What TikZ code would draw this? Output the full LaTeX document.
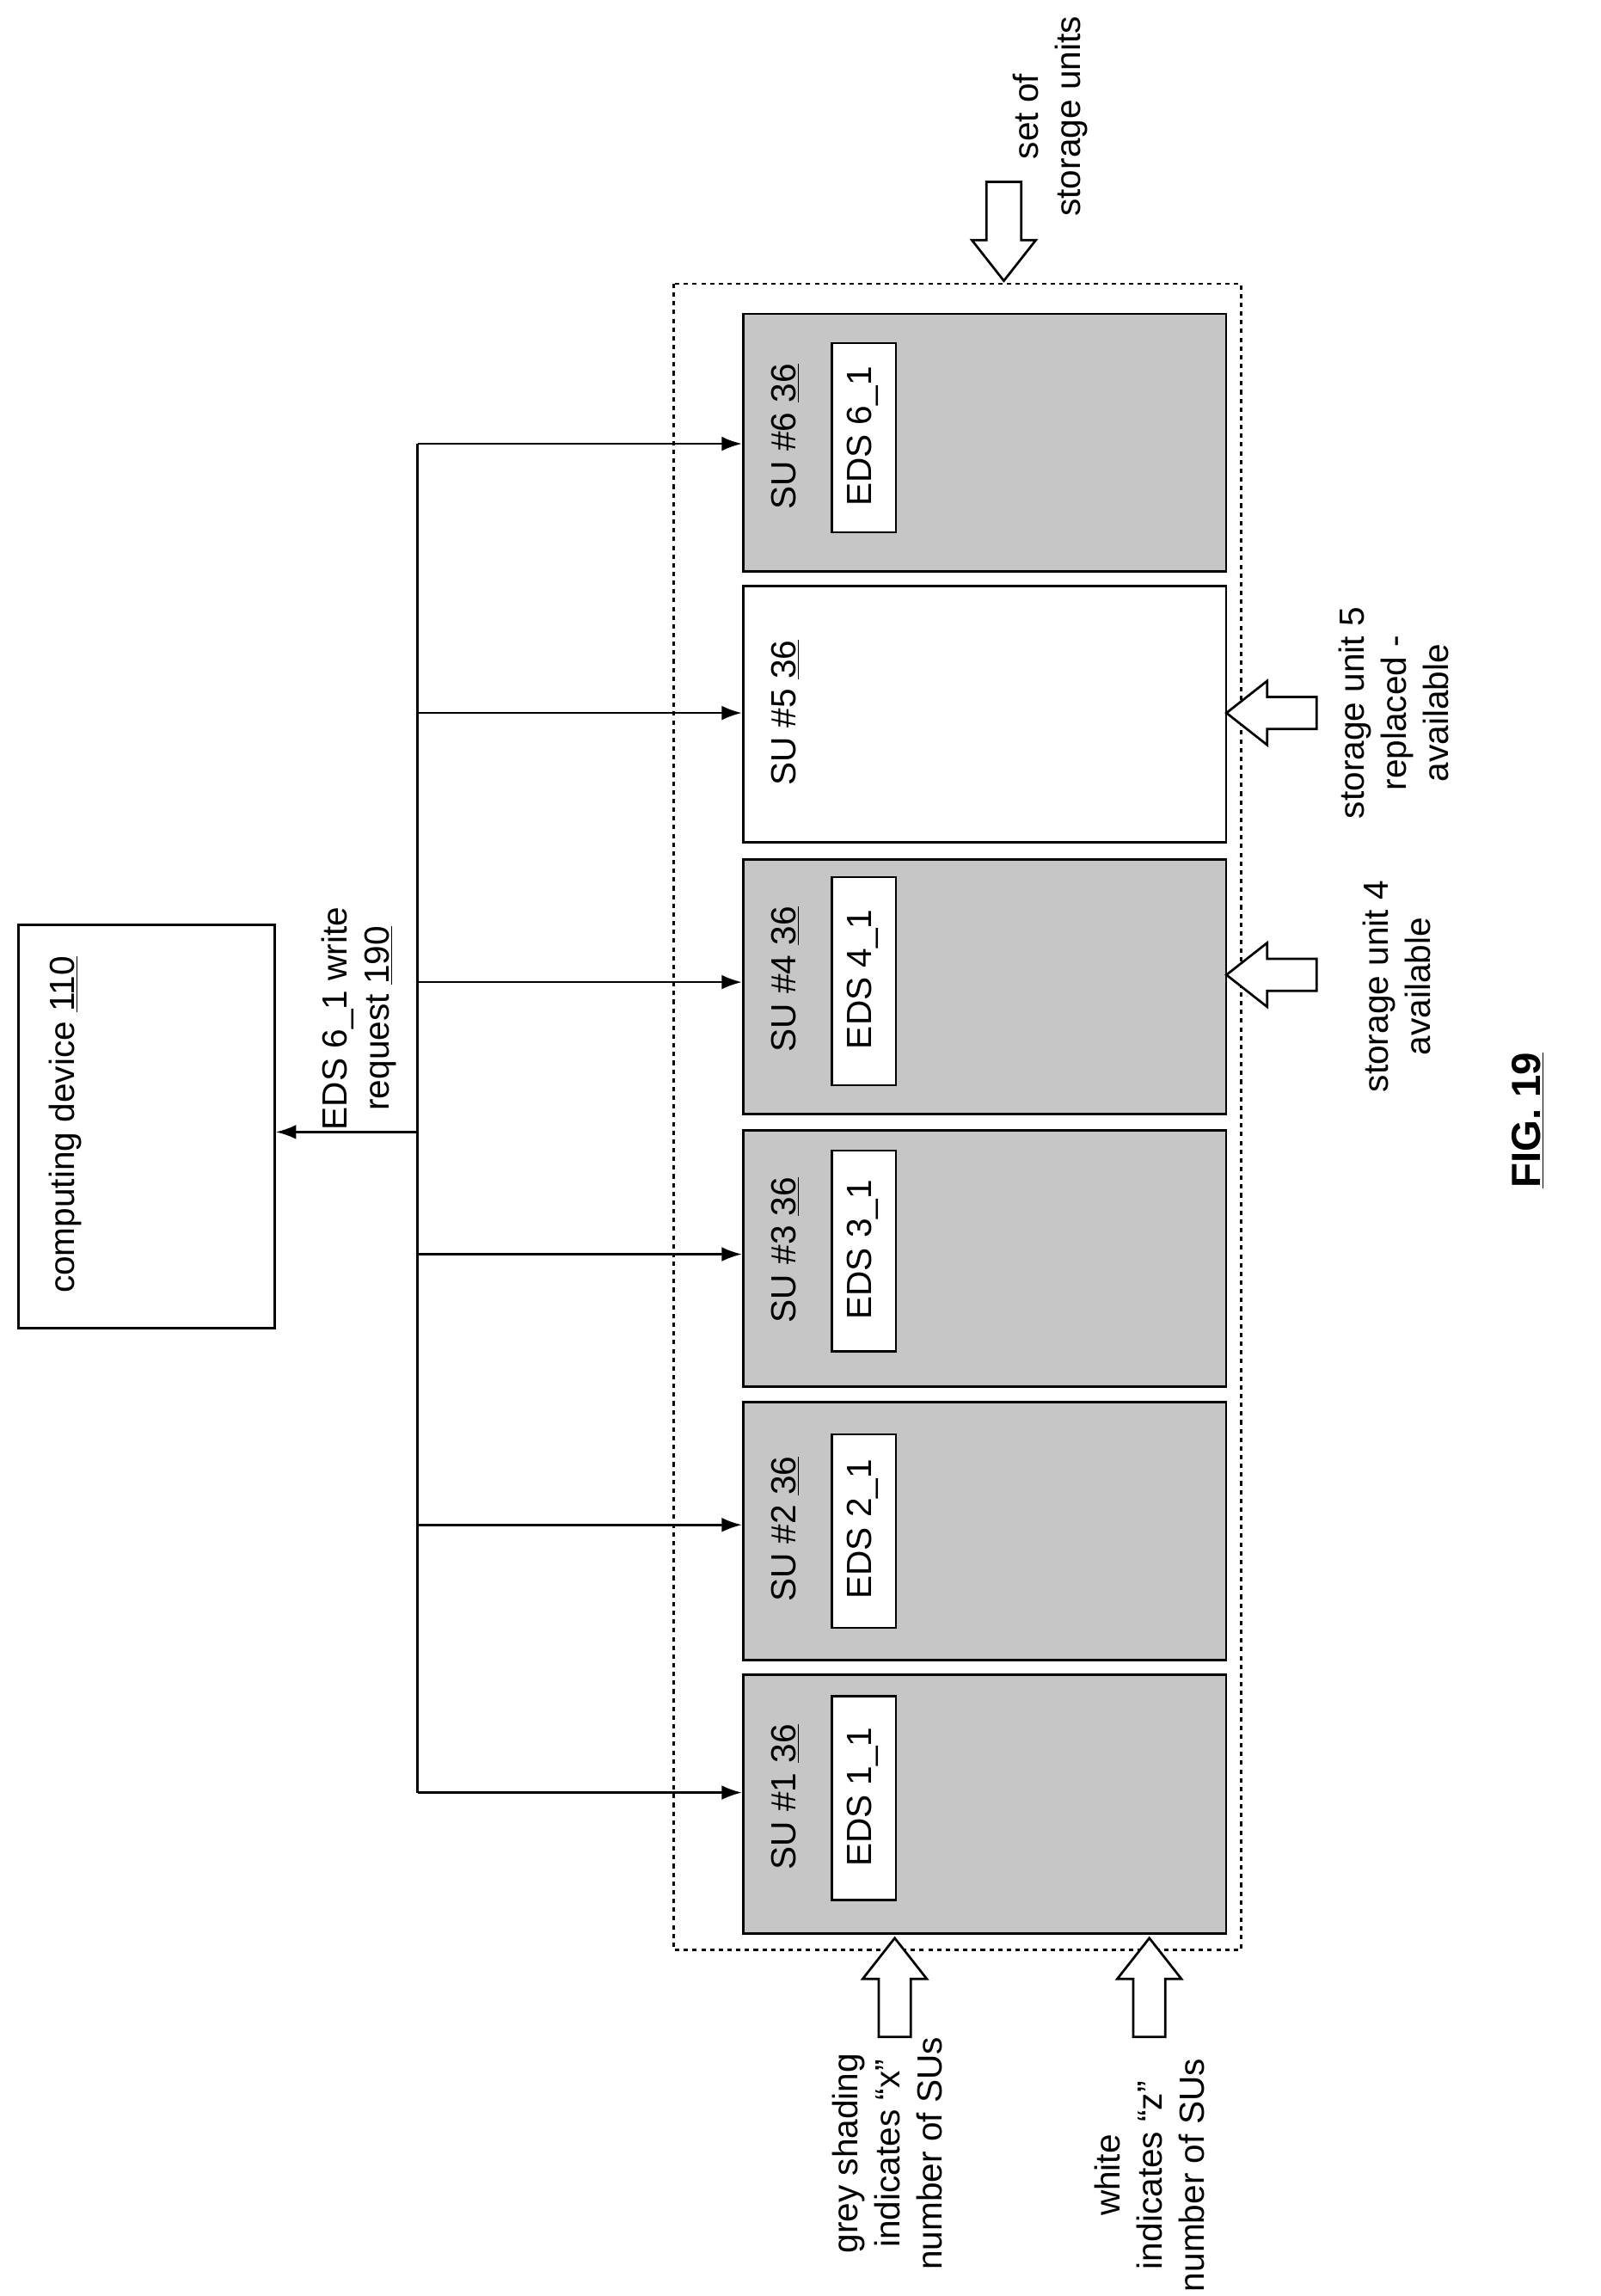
\documentclass[tikz,border=0pt]{standalone}
\usepackage{fontspec}
\setmainfont{Liberation Sans}
\usetikzlibrary{arrows.meta}
\begin{document}
\begin{tikzpicture}[x=1pt,y=-1pt,
  box/.style={draw,line width=1.6pt,inner sep=0,anchor=north west},
  su/.style={box,fill=gray!45},
  txt/.style={rotate=90,font=\fontsize{24}{29}\selectfont,align=center,inner sep=0},
  conn/.style={line width=1.6pt,-{Latex[length=14pt,width=10pt]}},
  barrow/.style={draw,line width=1.6pt,fill=white,line join=miter}]
\useasboundingbox (0,0) rectangle (1100,1578);
% computing device
\node[box,minimum width=176pt,minimum height=277pt] (cd) at (12,635) {};
\node[txt] (cdt) at (45,773) {computing device \underline{110}};
% dashed set
\draw[dashed,line width=1.6pt] (463,195) rectangle (853,1340);
% SUs
\foreach \i/\t/\h/\f in {6/215/177/su,5/402/176/box,4/590/175/su,3/776/176/su,2/963/177/su,1/1150/178/su}{
  \node[\f,minimum width=332pt,minimum height=\h pt] (su\i) at (510,\t) {};
}
\foreach \i/\c/\a/\b in {6/300/235/365,4/673/602/745,3/859/790/928,2/1051/985/1118,1/1235/1165/1305}{
  \pgfmathsetmacro\hh{\b-\a}
  \node[box,fill=white,minimum width=44pt,minimum height=\hh pt] (eds\i) at (571,\a) {};
  \node[txt] (edst\i) at (593,\c) {EDS \i\_1};
  \node[txt] (sut\i) at (540,\c) {SU \#\i\ \underline{36}};
}
\node[txt] (sut5) at (540,490) {SU \#5 \underline{36}};
% bus
\coordinate (b6) at (287,305);
\coordinate (b5) at (287,490);
\coordinate (b4) at (287,675);
\coordinate (b3) at (287,862);
\coordinate (b2) at (287,1048);
\coordinate (b1) at (287,1232);
\coordinate (bc) at (287,778);
\draw[line width=1.6pt] (b6) -- (b1);
\foreach \i in {1,...,6}{\draw[conn] (b\i) -- (b\i -| su\i.west);}
\draw[conn] (bc) -- (bc -| cd.east);
\node[txt] (req) at (247,700) {EDS 6\_1 write\\request \underline{190}};
% block arrows
\draw[barrow] (690,193) -- (668,165) -- (678,165) -- (678,125) -- (702,125) -- (702,165) -- (712,165) -- cycle;
\node[txt] (set) at (722,80) {set of\\storage units};
\draw[barrow] (843,670) -- (871,648) -- (871,659) -- (905,659) -- (905,681) -- (871,681) -- (871,692) -- cycle;
\node[txt] (s4) at (960,678) {storage unit 4\\available};
\draw[barrow] (843,490) -- (871,468) -- (871,479) -- (905,479) -- (905,501) -- (871,501) -- (871,512) -- cycle;
\node[txt] (s5) at (958,490) {storage unit 5\\replaced -\\available};
\draw[barrow] (615,1332) -- (593,1360) -- (604,1360) -- (604,1400) -- (626,1400) -- (626,1360) -- (637,1360) -- cycle;
\node[txt] (grey) at (610,1480) {grey shading\\indicates ``x''\\number of SUs};
\draw[barrow] (790,1332) -- (768,1360) -- (779,1360) -- (779,1400) -- (801,1400) -- (801,1360) -- (812,1360) -- cycle;
\node[txt] (white) at (790,1495) {white\\indicates ``z''\\number of SUs};
\node[txt,font=\fontsize{28}{32}\selectfont\bfseries] (fig) at (1050,770) {\underline{FIG. 19}};
\end{tikzpicture}
\end{document}
